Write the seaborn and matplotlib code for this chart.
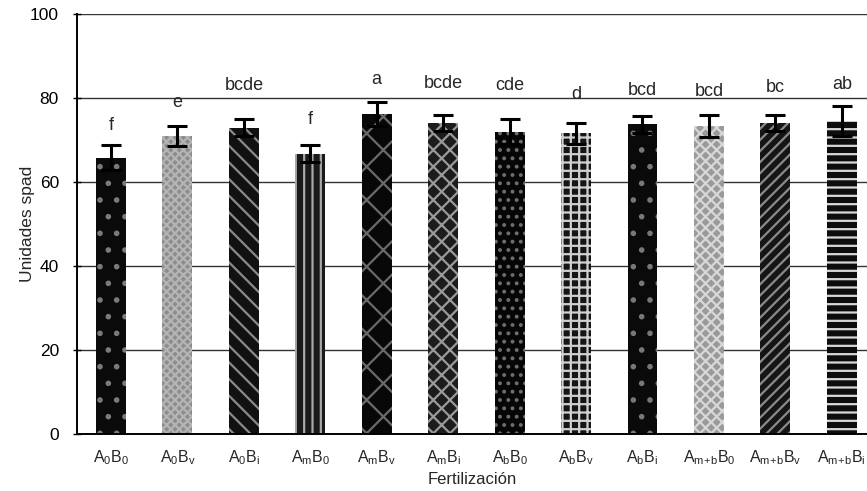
import matplotlib
matplotlib.use("Agg")
import matplotlib.pyplot as plt
import seaborn as sns
import pandas as pd
import numpy as np

categories = ["A0B0", "A0Bv", "A0Bi", "AmB0", "AmBv", "AmBi",
              "AbB0", "AbBv", "AbBi", "Am+bB0", "Am+bBv", "Am+bBi"]
tick_labels = [r"$\mathregular{A_0B_0}$", r"$\mathregular{A_0B_v}$", r"$\mathregular{A_0B_i}$",
               r"$\mathregular{A_mB_0}$", r"$\mathregular{A_mB_v}$", r"$\mathregular{A_mB_i}$",
               r"$\mathregular{A_bB_0}$", r"$\mathregular{A_bB_v}$", r"$\mathregular{A_bB_i}$",
               r"$\mathregular{A_{m\!+\!b}B_0}$", r"$\mathregular{A_{m\!+\!b}B_v}$",
               r"$\mathregular{A_{m\!+\!b}B_i}$"]
values = [65.8, 71.0, 73.0, 66.8, 76.3, 74.2, 72.0, 71.6, 73.8, 73.4, 74.0, 74.6]
errors = [3.0, 2.4, 2.0, 2.1, 2.9, 1.9, 3.0, 2.6, 2.0, 2.7, 1.9, 3.5]
letters = ["f", "e", "bcde", "f", "a", "bcde", "cde", "d", "bcd", "bcd", "bc", "ab"]
letter_y = [73.5, 79.0, 83.0, 75.0, 84.5, 83.5, 83.0, 80.8, 81.8, 81.5, 82.5, 83.2]

faces = ["#0a0a0a", "#8c8c8c", "#111111", "#1a1a1a", "#080808", "#1c1c1c",
         "#060606", "#151515", "#0a0a0a", "#9a9a9a", "#151515", "#0d0d0d"]
hatch_colors = ["#7a7a7a", "#b4b4b4", "#8a8a8a", "#a8a8a8", "#6a6a6a", "#9a9a9a",
                "#6e6e6e", "#d0d0d0", "#777777", "#d8d8d8", "#8a8a8a", "#d8d8d8"]
hatches = [".", "xxxx", "\\\\", "||", "x", "xx", "..", "++", ".", "xxx", "///", "--"]

plt.rcParams["hatch.linewidth"] = 1.6
sns.set_style("white")
plt.rcParams["font.family"] = ["Liberation Sans", "DejaVu Sans"]
plt.rcParams["mathtext.fontset"] = "custom"
plt.rcParams["mathtext.rm"] = "Liberation Sans"

df = pd.DataFrame({"cat": categories, "val": values})

fig = plt.figure(figsize=(8.67, 4.91), dpi=100)
ax = fig.add_axes([0.0888, 0.116, 0.9112, 0.855])
sns.barplot(data=df, x="cat", y="val", ax=ax, errorbar=None, width=0.45,
            color="black", saturation=1)

for p, fc, hc, h in zip(ax.patches, faces, hatch_colors, hatches):
    p.set_facecolor(fc)
    p.set_edgecolor(hc)
    p.set_hatch(h)
    p.set_linewidth(0)

xs = np.arange(len(categories))
ax.errorbar(xs, values, yerr=errors, fmt="none", ecolor="black",
            elinewidth=2.2, capsize=7, capthick=2.2, zorder=5)

for x, t, ly in zip(xs, letters, letter_y):
    ax.text(x, ly, t, ha="center", va="center", fontsize=13)

ax.set_ylim(0, 100)
ax.set_xlim(-0.512, 11.38)
ax.set_yticks([0, 20, 40, 60, 80, 100])
ax.yaxis.grid(True, color="#333333", linewidth=1.0)
ax.set_axisbelow(True)
ax.set_xticks(xs)
ax.set_xticklabels(tick_labels, fontsize=11.5)
ax.tick_params(axis="x", length=0, pad=10)
ax.tick_params(axis="y", length=6, width=1, direction="inout", colors="black",
               labelsize=12.5, left=True, pad=10)
for s in ["top", "right"]:
    ax.spines[s].set_visible(False)
ax.spines["left"].set_color("black")
ax.spines["left"].set_linewidth(1.4)
ax.spines["bottom"].set_color("black")
ax.spines["bottom"].set_linewidth(1.4)
ax.set_xlabel("Fertilización", fontsize=12, labelpad=4)
ax.set_ylabel("Unidades spad", fontsize=12.5)
ax.yaxis.set_label_coords(-0.053, 0.5)

fig.savefig("out.png", dpi=100)
